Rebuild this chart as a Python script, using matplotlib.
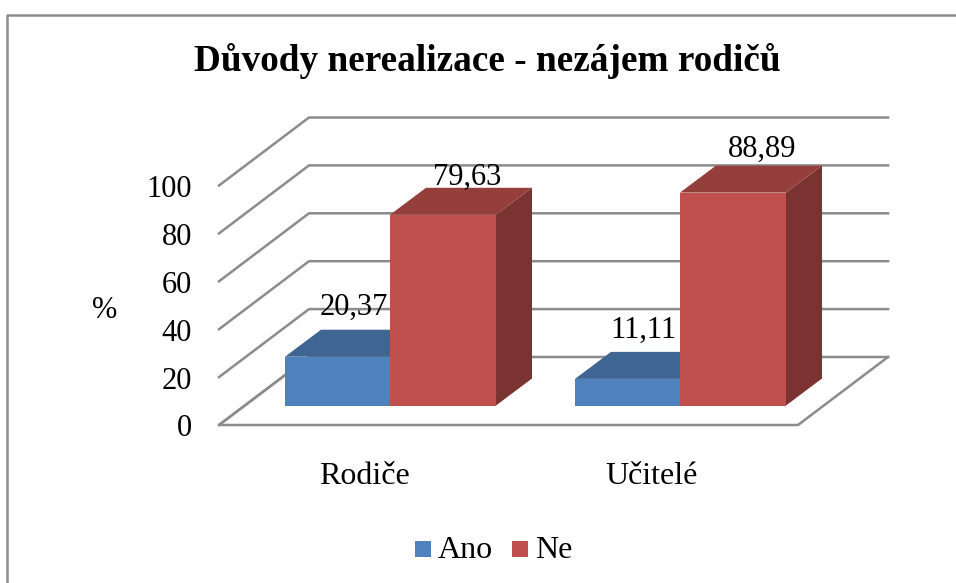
import matplotlib
matplotlib.use('Agg')
import matplotlib.pyplot as plt
from matplotlib.patches import Polygon, Rectangle

plt.rcParams['font.family'] = ['Liberation Serif', 'DejaVu Sans']

title = 'Důvody nerealizace - nezájem rodičů'
categories = ['Rodiče', 'Učitelé']
series_names = ['Ano', 'Ne']
ano = [20.37, 11.11]
ne = [79.63, 88.89]
y_ticks = [0, 20, 40, 60, 80, 100]

GRID = '#8c8c8c'
FACES = {'Ano': ('#4f81bd', '#3f6592', '#2f4b6e'), 'Ne': ('#c0504d', '#953f3c', '#7a3330')}

# pixel layout of the 3d box
SCALE = 2.395
FRONT_LEFT, FRONT_RIGHT, FRONT_Y = 219, 798, 425
DX, DY = 90, 68
BAR_Y, BAR_W, BAR_DX, BAR_DY = 405.5, 106, 36, 27
GROUP_X = [285, 575]


def label(x, y, s, **kw):
    ax.text(x, y, s, ha=kw.pop('ha', 'center'), va=kw.pop('va', 'center'), color='black', **kw)


def bar3d(x, val, name):
    front, top, side = FACES[name]
    y0 = BAR_Y - val * SCALE
    ax.add_patch(Polygon([(x + BAR_W, y0), (x + BAR_W + BAR_DX, y0 - BAR_DY),
                          (x + BAR_W + BAR_DX, BAR_Y - BAR_DY), (x + BAR_W, BAR_Y)], fc=side, ec='none', zorder=3))
    ax.add_patch(Polygon([(x, y0), (x + BAR_DX, y0 - BAR_DY), (x + BAR_W + BAR_DX, y0 - BAR_DY),
                          (x + BAR_W, y0)], fc=top, ec='none', zorder=3))
    ax.add_patch(Rectangle((x, y0), BAR_W, BAR_Y - y0, fc=front, ec='none', zorder=3))


fig = plt.figure(figsize=(9.56, 5.83), dpi=100)
ax = fig.add_axes([0, 0, 1, 1])
ax.set_xlim(0, 956)
ax.set_ylim(583, 0)
ax.axis('off')

# outer frame, cut by the picture on the right and at the bottom
ax.plot([7, 7, 956], [583, 15, 15], color=GRID, lw=1.8)

# walls and floor
for t in y_ticks:
    y = FRONT_Y - t * SCALE
    ax.plot([FRONT_LEFT, FRONT_LEFT + DX, FRONT_RIGHT + DX], [y, y - DY, y - DY], color=GRID, lw=1.8, zorder=1)
    label(192, y + 4, str(t), ha='right', fontsize=22)
ax.plot([FRONT_LEFT + DX, FRONT_LEFT, FRONT_RIGHT, FRONT_RIGHT + DX],
        [FRONT_Y - DY, FRONT_Y, FRONT_Y, FRONT_Y - DY], color=GRID, lw=1.8, zorder=1)

# bars
for i, x in enumerate(GROUP_X):
    bar3d(x, ano[i], 'Ano')
    bar3d(x + BAR_W - 1, ne[i], 'Ne')

# value labels
for i, x in enumerate(GROUP_X):
    label(x + 69, BAR_Y - ano[i] * SCALE - 49, f'{ano[i]:.2f}'.replace('.', ','), fontsize=22, zorder=4)
red_off = [(77, 37), (82, 43)]
for i, x in enumerate(GROUP_X):
    off = red_off[i]
    label(x + 105 + off[0], BAR_Y - ne[i] * SCALE - off[1], f'{ne[i]:.2f}'.replace('.', ','), fontsize=22, zorder=4)

for x, c in zip([364, 652], categories):
    label(x, 476, c, fontsize=23)

label(105, 310, '%', fontsize=22)
label(487, 61, title, fontsize=26.8, fontweight='bold')

# legend
for x, tx, name in zip([415, 512], [438, 535], series_names):
    ax.add_patch(Rectangle((x, 541), 16, 16, fc=FACES[name][0], ec='none'))
    label(tx, 551, name, ha='left', fontsize=23)

fig.savefig('out.png', dpi=100)
